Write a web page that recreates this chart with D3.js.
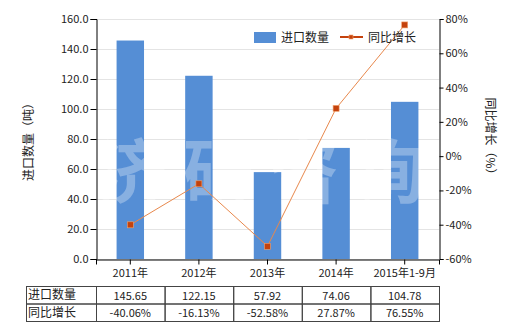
<!doctype html>
<html lang="zh">
<head>
    <meta charset="utf-8">
    <title>进口数量与同比增长</title>
    <script src="https://d3js.org/d3.v7.min.js"></script>
    <style>
        body { margin: 0; background: #fff; }
        svg text {
            font-family: "Noto Sans CJK SC", "DejaVu Sans", sans-serif;
            fill: #222;
        }
    </style>
</head>
<body>
    <div id="chart"></div>
    <script>
        // Data
        var categories = ["2011年", "2012年", "2013年", "2014年", "2015年1-9月"];
        var quantity   = [145.65, 122.15, 57.92, 74.06, 104.78];
        var growth     = [-40.06, -16.13, -52.58, 27.87, 76.55];
        var qtyLabels  = ["145.65", "122.15", "57.92", "74.06", "104.78"];
        var growLabels = ["-40.06%", "-16.13%", "-52.58%", "27.87%", "76.55%"];
        var leftTicks  = [0, 20, 40, 60, 80, 100, 120, 140, 160];
        var rightTicks = [-60, -40, -20, 0, 20, 40, 60, 80];

        // Layout (note: "top" is reserved on window, so use plot* names)
        var width  = 520, height = 330;
        var plotL  = 96, plotR = 439, plotT = 19, plotB = 259;
        var barColor  = "#558ed5";
        var lineColor = "#e8884c";
        var dotColor  = "#c4420d";

        var svg = d3.select("#chart")
            .append("svg")
            .attr("width", width)
            .attr("height", height);

        // Scales
        var x  = d3.scaleBand().domain(categories).range([plotL, plotR]);
        var yL = d3.scaleLinear().domain([0, 160]).range([plotB, plotT]);
        var yR = d3.scaleLinear().domain([-60, 80]).range([plotB, plotT]);

        // Grid lines
        svg.append("g")
            .selectAll("line")
            .data(leftTicks)
            .enter()
            .append("line")
            .attr("x1", plotL).attr("x2", plotR)
            .attr("y1", function(d) { return yL(d) + 0.5; })
            .attr("y2", function(d) { return yL(d) + 0.5; })
            .attr("stroke", "#e4e4e4");

        // Bars
        var barW = x.bandwidth() * 0.4;
        svg.append("g")
            .selectAll("rect")
            .data(quantity)
            .enter()
            .append("rect")
            .attr("x", function(d, i) { return x(categories[i]) + (x.bandwidth() - barW) / 2; })
            .attr("y", function(d) { return yL(d); })
            .attr("width", barW)
            .attr("height", function(d) { return yL(0) - yL(d); })
            .attr("fill", barColor);

        // Watermark
        svg.append("text")
            .attr("x", 97)
            .attr("y", 198)
            .attr("font-size", 70)
            .attr("font-weight", "bold")
            .attr("letter-spacing", 16)
            .style("fill", "#ffffff")
            .style("fill-opacity", 0.3)
            .text("济研咨询");

        // Line + markers
        var cx = function(d, i) { return x(categories[i]) + x.bandwidth() / 2; };
        var line = d3.line()
            .x(function(d, i) { return cx(d, i); })
            .y(function(d) { return yR(d); });

        svg.append("path")
            .datum(growth)
            .attr("d", line)
            .attr("fill", "none")
            .attr("stroke", lineColor)
            .attr("stroke-width", 1);

        svg.append("g")
            .selectAll("rect")
            .data(growth)
            .enter()
            .append("rect")
            .attr("x", function(d, i) { return cx(d, i) - 3; })
            .attr("y", function(d) { return yR(d) - 3; })
            .attr("width", 6)
            .attr("height", 6)
            .attr("fill", dotColor)
            .attr("stroke", "#f3a46e")
            .attr("stroke-width", 0.6);

        // Axes
        var axisL = svg.append("g")
            .attr("transform", "translate(" + (plotL + 0.5) + ",0)")
            .call(d3.axisLeft(yL).tickValues(leftTicks).tickSize(6).tickPadding(2)
                .tickFormat(d3.format(".1f")));

        var axisR = svg.append("g")
            .attr("transform", "translate(" + (plotR + 0.5) + ",0)")
            .call(d3.axisRight(yR).tickValues(rightTicks).tickSize(4).tickPadding(2)
                .tickFormat(function(d) { return d + "%"; }));

        var axisB = svg.append("g")
            .attr("transform", "translate(0," + (plotB + 0.5) + ")")
            .call(d3.axisBottom(x).tickSize(5).tickPadding(5));

        [axisL, axisR, axisB].forEach(function(a) {
            a.select(".domain").attr("stroke", "#000");
            a.selectAll(".tick line").attr("stroke", "#000");
            a.selectAll("text").attr("font-size", 11).style("fill", "#222")
                .style("font-family", "\"Noto Sans CJK SC\", sans-serif");
        });

        // Axis titles
        svg.append("text")
            .attr("transform", "translate(33," + ((plotT + plotB) / 2) + ") rotate(-90)")
            .attr("text-anchor", "middle")
            .attr("font-size", 12)
            .text("进口数量（吨）");

        svg.append("text")
            .attr("transform", "translate(486," + ((plotT + plotB) / 2) + ") rotate(90)")
            .attr("text-anchor", "middle")
            .attr("font-size", 12)
            .text("同比增长（%）");

        // Legend
        var lg = svg.append("g");
        lg.append("rect")
            .attr("x", 254).attr("y", 32)
            .attr("width", 22).attr("height", 11)
            .attr("fill", barColor);
        lg.append("text")
            .attr("x", 281).attr("y", 42)
            .attr("font-size", 12)
            .text("进口数量");
        lg.append("line")
            .attr("x1", 340).attr("x2", 363)
            .attr("y1", 37).attr("y2", 37)
            .attr("stroke", dotColor)
            .attr("stroke-width", 2);
        lg.append("rect")
            .attr("x", 349).attr("y", 35)
            .attr("width", 4).attr("height", 4)
            .attr("fill", dotColor)
            .attr("stroke", "#f3a46e")
            .attr("stroke-width", 0.6);
        lg.append("text")
            .attr("x", 368).attr("y", 42)
            .attr("font-size", 12)
            .text("同比增长");

        // Data table
        var tLeft = 26, tTop = 286, rowH = 17.5;
        var rows = [
            { name: "进口数量", values: qtyLabels },
            { name: "同比增长", values: growLabels }
        ];
        var table = svg.append("g");

        rows.forEach(function(row, r) {
            var y0 = tTop + r * rowH;
            table.append("rect")
                .attr("x", tLeft + 0.5).attr("y", y0 + 0.5)
                .attr("width", plotL - tLeft).attr("height", rowH)
                .attr("fill", "none").attr("stroke", "#444");
            table.append("text")
                .attr("x", tLeft + 2).attr("y", y0 + 13)
                .attr("font-size", 12)
                .text(row.name);
            row.values.forEach(function(v, i) {
                table.append("rect")
                    .attr("x", x(categories[i]) + 0.5).attr("y", y0 + 0.5)
                    .attr("width", x.bandwidth()).attr("height", rowH)
                    .attr("fill", "none").attr("stroke", "#444");
                table.append("text")
                    .attr("x", x(categories[i]) + x.bandwidth() / 2)
                    .attr("y", y0 + 13.5)
                    .attr("text-anchor", "middle")
                    .attr("font-size", 11)
                    .text(v);
            });
        });
    </script>
</body>
</html>
